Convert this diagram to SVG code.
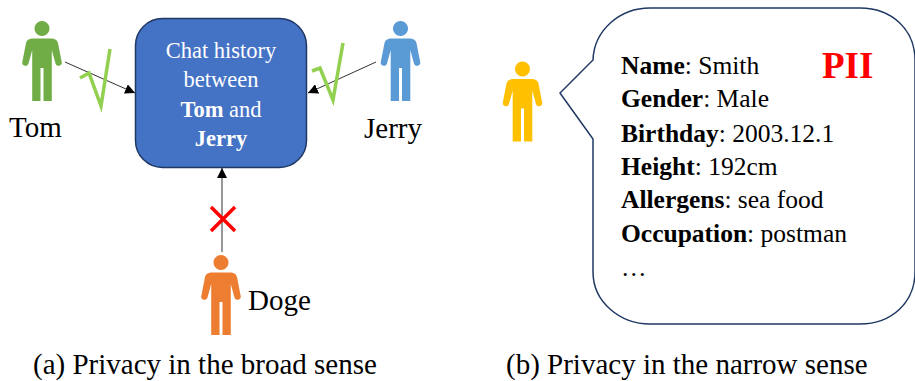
<svg xmlns="http://www.w3.org/2000/svg" width="915" height="381" viewBox="0 0 915 381">
<style>
text{font-family:"Liberation Serif","Times New Roman",serif;fill:#000}
.lbl{font-size:29px}
.info{font-size:25.5px}
.box{font-size:22.5px;fill:#fff;text-anchor:middle}
b,.b{font-weight:700}
.ln{stroke:#333;stroke-width:1;fill:none}
.chk{fill:none;stroke:#92d050;stroke-width:3.5}
</style>
<defs>
<marker id="ah" markerUnits="userSpaceOnUse" markerWidth="11" markerHeight="10" refX="10" refY="5" orient="auto"><path d="M0 0L10 5L0 10Z" fill="#000"/></marker>
<path id="p" d="M0 0a7.5 7.5 0 1 1-.01 0ZM-9 17.500C-12 17.500-15 18.500-16 22L-19.700 41C-20.600 45-14.500 46.500-13.500 42.500L-9.800 29V80H-1.500V47H1.500V80H9.800V29L13.500 42.500C14.500 46.500 20.600 45 19.700 41L16 22C15 18.500 12 17.500 9 17.500Z"/>
</defs>
<g id="connectors">
<path class="ln" d="M65 62L135 93" marker-end="url(#ah)"/>
<path class="ln" d="M376 62L308 93" marker-end="url(#ah)"/>
<path class="ln" d="M222 252V168" marker-end="url(#ah)" stroke="#555"/>
</g>
<g id="chat"><rect x="135.500" y="18.500" width="171" height="149" rx="27" fill="#4472c4" stroke="#1f3864" stroke-width="1.500"/>
<text class="box" x="221" y="58">Chat history</text>
<text class="box" x="221" y="87">between</text>
<text class="box" x="221" y="117"><tspan class="b">Tom</tspan> and</text>
<text class="box b" x="221" y="146">Jerry</text></g>
<g id="tom"><use href="#p" x="42" y="21" fill="#70ad47"/><text class="lbl" x="9" y="137">Tom</text></g>
<g id="tom-check"><path class="chk" d="M80 78L89 73L101 106L110 49"/></g>
<g id="jerry"><use href="#p" x="400.500" y="21" fill="#5b9bd5"/><text class="lbl" x="364" y="138">Jerry</text></g>
<g id="jerry-check"><path class="chk" d="M312 71L320 68L333 100L343 43"/></g>
<g id="deny"><path d="M211 207L235 231M235 207L211 231" stroke="#f00" stroke-width="3.500" fill="none"/></g>
<g id="doge"><use href="#p" x="221" y="255" fill="#ed7d31"/><text class="lbl" x="248" y="310">Doge</text></g>
<g id="person"><use href="#p" x="522.500" y="61.500" fill="#ffc000"/></g>
<g id="bubble"><path d="M593 60C594 30 620 8 650 8H860C892 8 915 30 915 60V272C915 302 892 324 860 324H650C620 324 593 302 593 272V139L560 93L593 60Z" fill="#fff" stroke="#203864" stroke-width="1.500"/>
<text class="info" x="621" y="74"><tspan class="b">Name</tspan>: Smith</text>
<text class="info" x="621" y="107"><tspan class="b">Gender</tspan>: Male</text>
<text class="info" x="621" y="142"><tspan class="b">Birthday</tspan>: 2003.12.1</text>
<text class="info" x="621" y="175"><tspan class="b">Height</tspan>: 192cm</text>
<text class="info" x="621" y="208"><tspan class="b">Allergens</tspan>: sea food</text>
<text class="info" x="621" y="242"><tspan class="b">Occupation</tspan>: postman</text>
<text class="info" x="621" y="276">…</text>
<text class="b" x="822" y="78" font-size="37" style="fill:#f00">PII</text></g>
<g id="captions"><text class="lbl" x="33" y="374">(a) Privacy in the broad sense</text>
<text class="lbl" x="506" y="374">(b) Privacy in the narrow sense</text></g>
</svg>
